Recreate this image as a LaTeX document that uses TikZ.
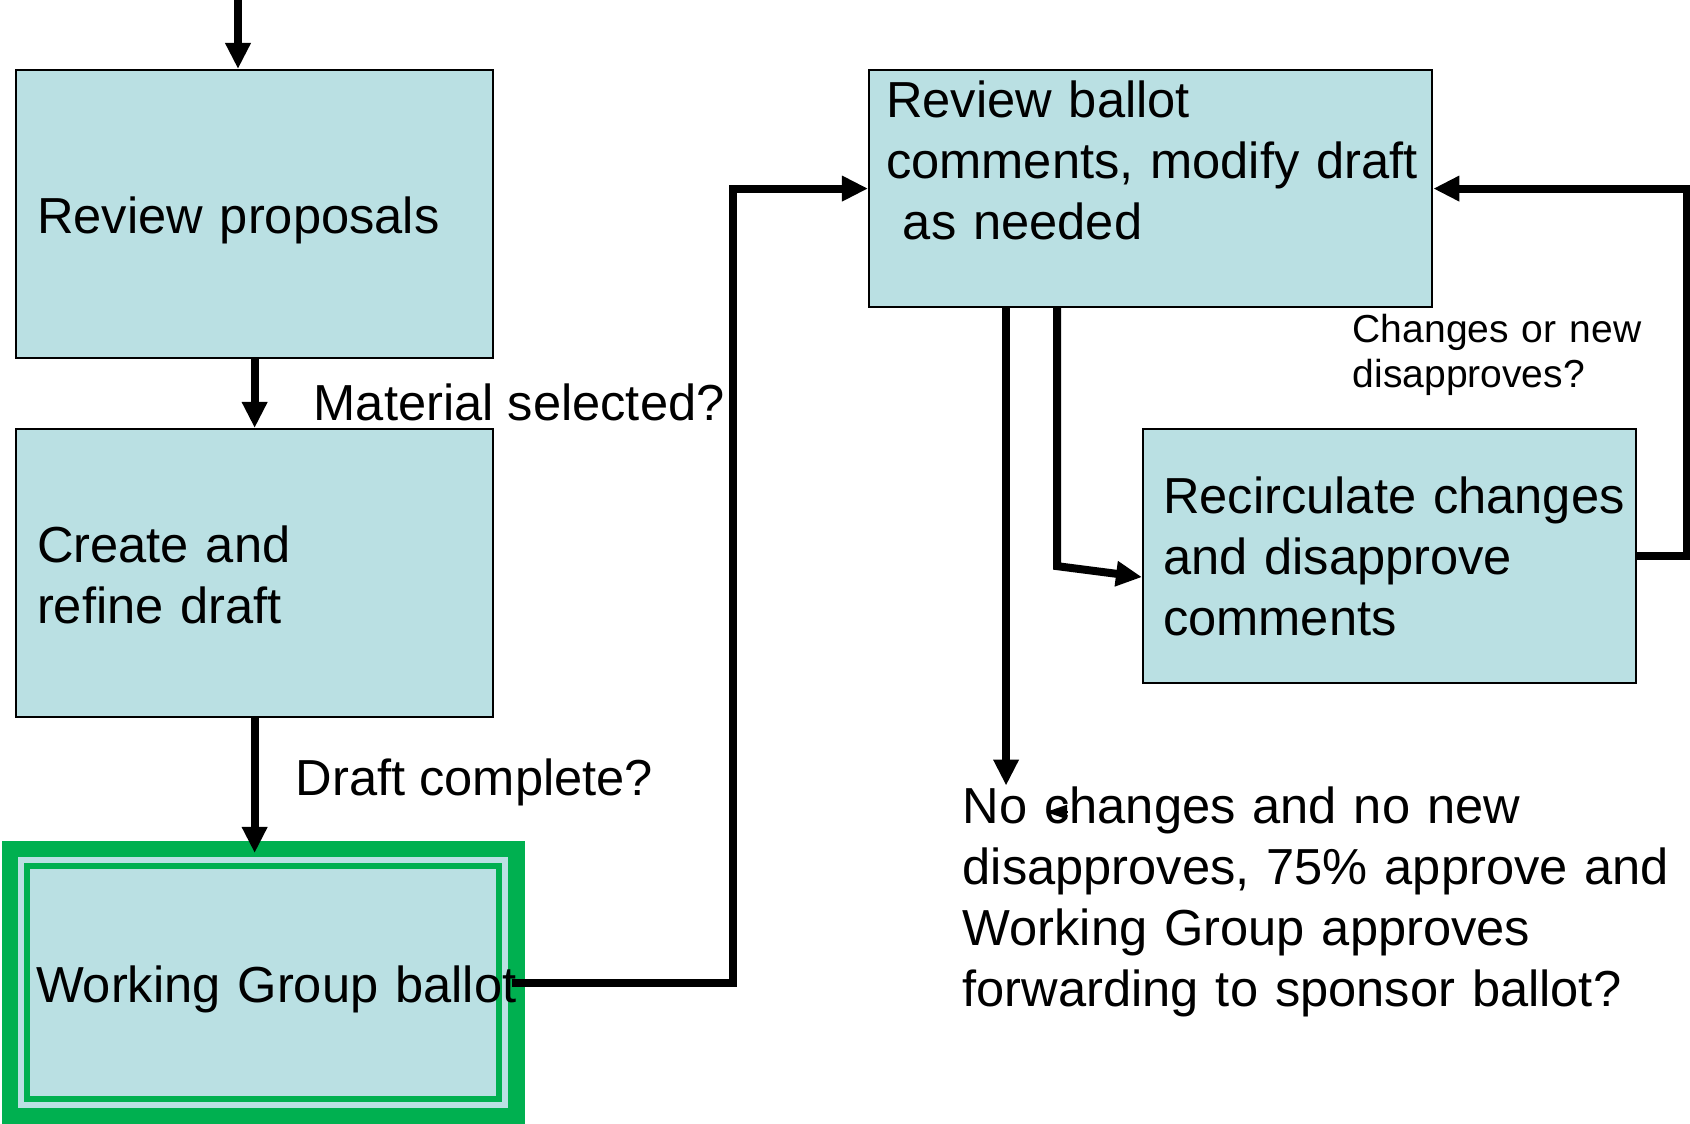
\documentclass[tikz,border=0pt]{standalone}
\usepackage{fontspec}
\setmainfont{Liberation Sans}
\usetikzlibrary{arrows.meta, backgrounds}

\definecolor{boxblue}{RGB}{186,224,227}
\definecolor{wggreen}{RGB}{0,176,80}
\newcommand{\boxfont}{\fontsize{14.4}{17.4}\selectfont}
\newcommand{\askfont}{\fontsize{11.1}{12.8}\selectfont}

\tikzset{
	stepbox/.style={rectangle, draw, line width=0.2mm, fill=boxblue, anchor=north west, align=left, inner xsep=2.1mm, inner ysep=0pt, font=\boxfont},
	flow/.style={-{Triangle[length=2.6mm, width=2.4mm]}, line width=0.8mm},
	ask/.style={anchor=base west, inner sep=0pt, align=left, font=\boxfont},
}

\begin{document}
\begin{tikzpicture}[x=0.01cm, y=-0.01cm]
	\useasboundingbox (0,0) rectangle (1690,1124);

	\node[stepbox, text width=43.5mm, text height=16.3mm, text depth=12.5mm] (prop) at (15,69) {Review proposals};
	\node[stepbox, text width=43.5mm, text height=13.3mm, text depth=15.5mm] (draft) at (15,428) {Create and\\refine draft};
	\node[stepbox, draw=wggreen, line width=0.6mm, inner xsep=0.9mm, text width=45.4mm, text height=13.6mm, text depth=9.7mm] (wgb) at (24,863) {\mbox{Working Group ballot}};
	\begin{scope}[on background layer]
		\draw[boxblue, line width=0.6mm] ([shift={(-0.3mm,0.3mm)}]wgb.north west) rectangle ([shift={(0.3mm,-0.3mm)}]wgb.south east);
		\draw[wggreen, line width=1.65mm] ([shift={(-1.4mm,1.4mm)}]wgb.north west) rectangle ([shift={(1.4mm,-1.4mm)}]wgb.south east);
	\end{scope}

	\node[stepbox, inner xsep=1.7mm, text width=52.9mm, text height=4.7mm, text depth=19mm] (rb) at (868,69) {Review ballot\\\mbox{comments, modify draft}\\\mbox{} as needed};
	\node[stepbox, inner xsep=2mm, text width=45.3mm, text height=8.4mm, text depth=17mm] (recirc) at (1142,428) {\mbox{Recirculate changes}\\and disapprove\\comments};

	\node[ask] (matsel) at (313,420) {Material selected?};
	\node[ask] (drafted) at (295,795) {Draft complete?};
	\node[ask, font=\askfont, text width=30mm] (recheck) at (1352,342) {Changes or new\\disapproves?};
	\node[ask, text width=72mm] (done) at (962,823) {No changes and no new\\disapproves, 75\% approve and\\Working Group approves\\forwarding to sponsor ballot?};

	\coordinate (start) at (238,0);
	\coordinate (wgin) at (255,853);
	\coordinate (strayhead) at (1046,812);
	\draw[flow] (start) -- (start |- prop.north);
	\draw[flow] (prop) -- (draft);
	\draw[flow] (draft) -- (draft |- wgin);
	\draw[flow] ([xshift=1mm]wgb.east) -- ++(220.5,0) |- (rb.west);
	\draw[flow] ([xshift=-14.45mm]rb.south) -- ([xshift=-14.45mm]rb.south |- done.north);
	\draw[flow] ([xshift=-9.35mm]rb.south) -- ++(0,258) -- ([yshift=-2.1mm]recirc.west);
	\draw[flow] (recirc.east) -- ++(50,0) |- (rb.east);
	\draw[-{Triangle[length=2.1mm, width=1.4mm]}, line width=0.2mm] ([xshift=2.2mm]strayhead) -- (strayhead);
\end{tikzpicture}
\end{document}
